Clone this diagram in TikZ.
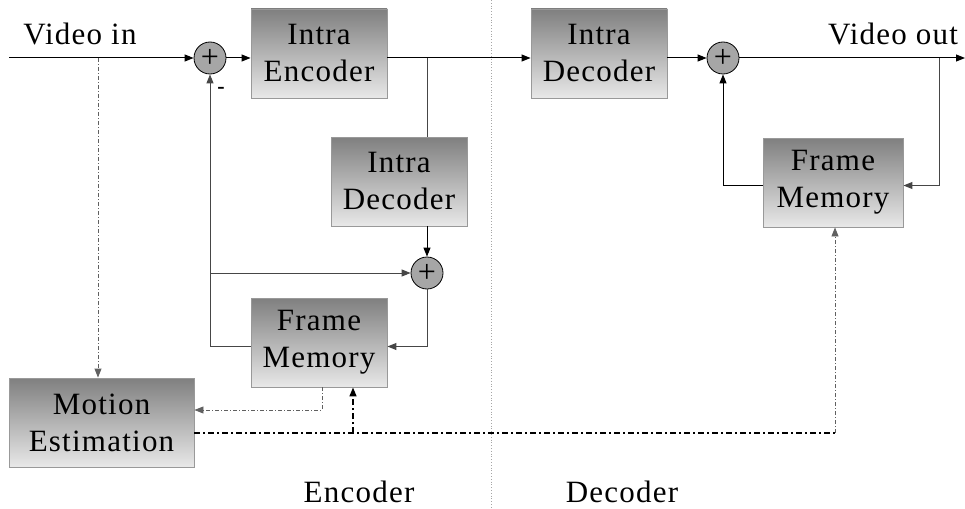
\documentclass[tikz,border=0pt]{standalone}
\usepackage{fontspec}
\setmainfont[LetterSpace=4]{Liberation Serif}
\usetikzlibrary{arrows.meta,calc}
\begin{document}
\begin{tikzpicture}[x=1pt,y=-1pt,
  font=\fontsize{31}{37}\selectfont,
  >={Triangle[length=9pt,width=7pt]},
  block/.style={rectangle,draw=gray!80,line width=0.9pt,inner sep=0pt,
    top color=gray,bottom color=gray!18,align=center,
    minimum width=136pt,minimum height=89pt},
  summer/.style={circle,draw=black,line width=0.8pt,fill=gray!70,
    minimum size=32pt,inner sep=0pt,font=\fontsize{32}{32}\selectfont},
  sig/.style={line width=1pt,draw=black},
  fbk/.style={line width=1pt,draw=gray!55!black},
  ctl/.style={line width=0.9pt,draw=gray!75!black,
    dash pattern=on 4pt off 2pt on 1pt off 2pt},
  mvec/.style={line width=1.6pt,draw=black,
    dash pattern=on 6pt off 3pt on 2pt off 3pt},
]
\useasboundingbox (0,0) rectangle (965,508);

% encoder / decoder split
\draw[gray!70,line width=0.8pt,dotted] (491,0) -- (491,508);

% blocks
\node[block] (ienc)  at (319,53.5)  {Intra\\Encoder};
\node[block] (idec1) at (399,181.5) {Intra\\Decoder};
\node[block] (fm1)   at (319,342.5) {Frame\\Memory};
\node[block,minimum width=185pt] (me) at (101.5,422.5) {Motion\\Estimation};
\node[block] (idec2) at (599,53.5)  {Intra\\Decoder};
\node[block,minimum width=140pt] (fm2) at (833,182.5) {Frame\\Memory};

% adders
\node[summer] (s1) at (210,58) {+};
\node[summer] (s2) at (427,273) {+};
\node[summer] (s3) at (723,58) {+};

% junction points
\coordinate (vin)  at (9,58);
\coordinate (vout) at (965,58);
\coordinate (tap)  at (98,58);
\coordinate (b1)   at (427,58);
\coordinate (b2)   at (939,58);
\coordinate (fb)   at (210,273);
\coordinate (m1)   at (322,410);
\coordinate (j1)   at (353,433);
\coordinate (j2)   at (835,433);

% labels
\node (lin)  at (80,34)  {Video in};
\node (lout) at (893,34) {Video out};
\node (lenc) at (359,492) {Encoder};
\node (ldec) at (622,492) {Decoder};
\node[font=\fontsize{22}{22}\selectfont\bfseries] (neg) at (221,90) {-};

% forward path
\draw[sig,->] (vin) -- (s1);
\draw[sig,->] (s1) -- (s1 -| ienc.west);
\draw[sig,->] (ienc.east |- s1) -- (s1 -| idec2.west);
\draw[sig,->] (idec2.east |- s3) -- (s3);
\draw[sig,->] (s3) -- (vout);

% encoder reconstruction loop
\draw[fbk] (b1) -- (b1 |- idec1.north);
\draw[sig,->] (s2 |- idec1.south) -- (s2.north);
\draw[fbk,->] (s2.south) |- ($(fm1.east)+(0,4)$);
\draw[fbk,->] ($(fm1.west)+(0,4)$) -| (s1.south);
\draw[fbk,->] (fb) -- (s2.west);

% decoder reconstruction loop
\draw[fbk,->] (b2) |- ($(fm2.east)+(0,3)$);
\draw[sig,->] ($(fm2.west)+(0,3)$) -| (s3.south);

% motion estimation paths
\draw[ctl,->] (tap) -- (tap |- me.north);
\draw[ctl,->] (fm1.south -| m1) -- (m1) -- (m1 -| me.east);
\draw[mvec] (me.east |- j1) -- (j2);
\draw[mvec,->] (j1) -- (j1 |- fm1.south);
\draw[ctl,->] (j2) -- (j2 |- fm2.south);
\end{tikzpicture}
\end{document}
